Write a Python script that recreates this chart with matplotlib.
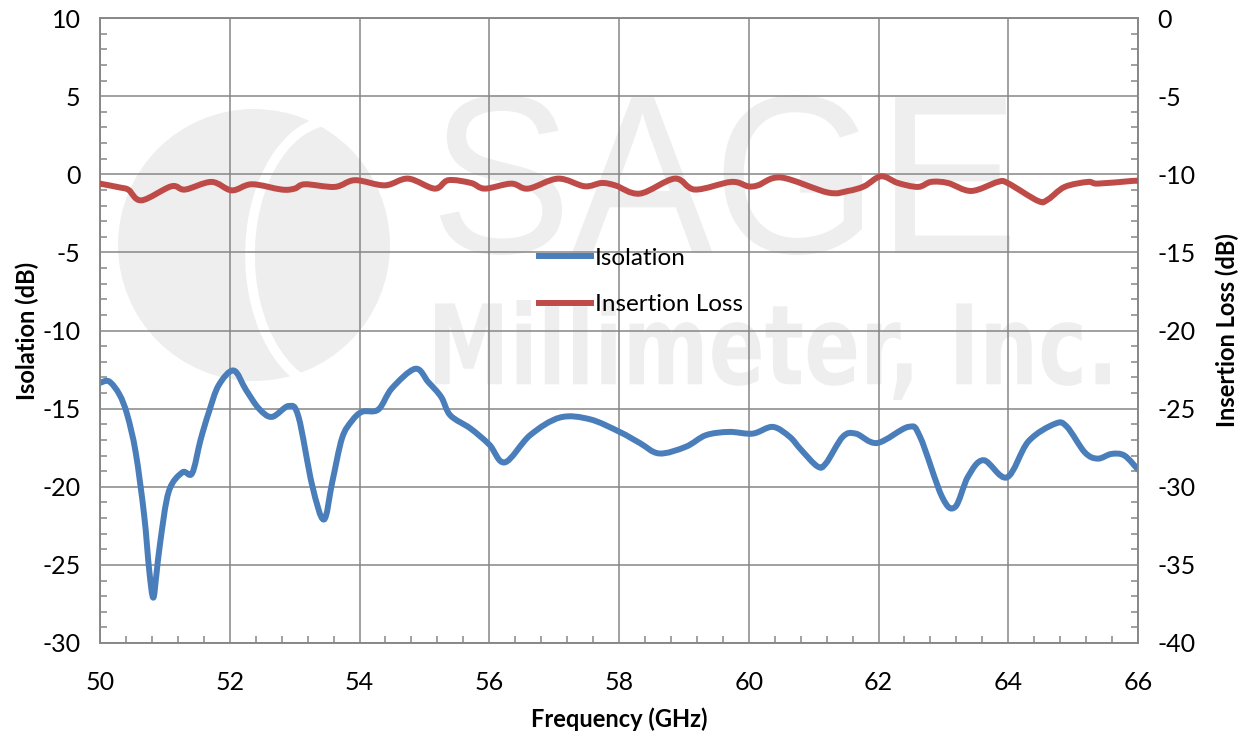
import matplotlib
matplotlib.use('Agg')
import matplotlib.pyplot as plt
import numpy as np
from matplotlib.patches import Circle, Arc, PathPatch
from matplotlib.path import Path
from matplotlib.textpath import TextPath
from matplotlib.font_manager import FontProperties
from matplotlib.transforms import Affine2D, IdentityTransform
from matplotlib.lines import Line2D
from matplotlib.ticker import MultipleLocator

# Isolation (left axis, dB)
iso_freq = [50.0, 50.14, 50.3, 50.42, 50.55, 50.68, 50.76, 50.82, 50.87, 50.93, 51.06,
            51.27, 51.42, 51.55, 51.68, 51.83, 52.06, 52.25, 52.45, 52.65, 52.91,
            53.06, 53.27, 53.45, 53.58, 53.73, 53.88, 54.04, 54.29, 54.5, 54.86,
            55.06, 55.26, 55.4, 55.71, 56.0, 56.24, 56.63, 57.09, 57.55, 58.01,
            58.32, 58.62, 59.03, 59.34, 59.7, 60.06, 60.37, 60.63, 60.8, 61.06,
            61.19, 61.45, 61.65, 61.98, 62.46, 62.64, 62.98, 63.18, 63.38, 63.62,
            63.98, 64.31, 64.72, 64.9, 65.18, 65.38, 65.59, 65.79, 66.0]
isolation = [-13.35, -13.26, -14.1, -15.4, -17.8, -21.8, -25.4, -27.1, -25.6, -23.5, -20.3,
             -19.08, -19.14, -17.0, -15.2, -13.5, -12.56, -13.8, -15.0, -15.53, -14.83,
             -15.53, -19.9, -22.1, -19.7, -16.9, -15.8, -15.2, -15.06, -13.7, -12.45,
             -13.3, -14.26, -15.43, -16.27, -17.3, -18.44, -16.7, -15.57, -15.68, -16.49,
             -17.2, -17.87, -17.44, -16.7, -16.49, -16.6, -16.17, -16.8, -17.6, -18.7,
             -18.5, -16.8, -16.6, -17.2, -16.17, -16.8, -20.65, -21.3, -19.35, -18.3,
             -19.4, -17.1, -15.97, -16.14, -17.8, -18.2, -17.9, -18.0, -18.9]

# Insertion loss (right axis, dB)
il_freq = [50.0, 50.31, 50.44, 50.64, 51.1, 51.31, 51.72, 52.03, 52.34, 52.8, 53.0,
           53.16, 53.62, 53.93, 54.39, 54.75, 55.16, 55.37, 55.72, 55.93, 56.34,
           56.6, 57.06, 57.47, 57.73, 57.94, 58.32, 58.86, 59.17, 59.73, 59.99,
           60.14, 60.5, 61.22, 61.53, 61.78, 62.04, 62.3, 62.61, 62.81, 63.07,
           63.43, 63.84, 63.99, 64.46, 64.61, 64.87, 65.23, 65.38, 65.9, 66.0]
insertion_loss = [-10.6, -10.85, -11.0, -11.67, -10.77, -10.98, -10.49, -11.03, -10.64, -10.98, -10.92,
                  -10.64, -10.81, -10.38, -10.71, -10.28, -10.92, -10.38, -10.56, -10.92, -10.6,
                  -10.92, -10.28, -10.77, -10.56, -10.71, -11.24, -10.28, -10.98, -10.49, -10.77,
                  -10.71, -10.21, -11.17, -11.07, -10.77, -10.13, -10.56, -10.81, -10.49, -10.56,
                  -11.07, -10.49, -10.56, -11.71, -11.62, -10.81, -10.49, -10.6, -10.43, -10.42]

BLUE = '#4A7EBB'
RED = '#BE4B48'
GRID = '#868686'
WM = '#EEEEEE'
W, H = 1247, 732


def smooth_path(xs, ys):
    # Excel style smoothed line: Catmull-Rom segments as cubic Beziers
    p = np.column_stack([xs, ys]).astype(float)
    n = len(p)
    verts = [p[0]]
    codes = [Path.MOVETO]
    for i in range(n - 1):
        p0 = p[i - 1] if i > 0 else p[i]
        p3 = p[i + 2] if i + 2 < n else p[i + 1]
        verts += [p[i] + (p[i + 1] - p0) / 6, p[i + 1] - (p3 - p[i]) / 6, p[i + 1]]
        codes += [Path.CURVE4] * 3
    return Path(verts, codes)


def fitted_text(ax, s, box, family, weight='normal'):
    # text outline stretched into a pixel box (x0, top, x1, bottom), image coords
    tp = TextPath((0, 0), s, size=100, prop=FontProperties(family=family, weight=weight))
    ext = tp.get_extents()
    x0, top, x1, bottom = box
    tr = (Affine2D().translate(-ext.x0, -ext.y0)
          .scale((x1 - x0) / ext.width, (bottom - top) / ext.height)
          .translate(x0, H - bottom))
    ax.add_patch(PathPatch(tr.transform_path(tp), transform=IdentityTransform(),
                           color=WM, lw=0, zorder=0))


plt.rcParams['font.family'] = ['Lato', 'DejaVu Sans']
plt.rcParams['axes.unicode_minus'] = False

fig = plt.figure(figsize=(W / 100, H / 100), dpi=100)
ax = fig.add_axes([100 / W, 89 / H, 1038 / W, 625 / H])
ax2 = ax.twinx()

# watermark logo and name
ax.add_patch(Circle((254, H - 245), 136, transform=IdentityTransform(), color=WM, lw=0, zorder=0))
ax.add_patch(Arc((335, H - 255), 170, 270, theta1=75, theta2=265, transform=IdentityTransform(),
                 color='white', lw=7, zorder=0.1))
fitted_text(ax, 'SAGE', (440, 95, 1010, 255), ['Liberation Sans', 'DejaVu Sans'])
fitted_text(ax, 'Millimeter, Inc.', (435, 300, 1110, 400), ['DejaVu Sans'], 'bold')

ax.add_patch(PathPatch(smooth_path(iso_freq, isolation), fill=False, edgecolor=BLUE, lw=4.3,
                       capstyle='round', joinstyle='round', zorder=3))
ax2.add_patch(PathPatch(smooth_path(il_freq, insertion_loss), fill=False, edgecolor=RED, lw=4.3,
                        capstyle='round', joinstyle='round', zorder=3))

ax.set_xlim(50, 66)
ax.set_ylim(-30, 10)
ax2.set_ylim(-40, 0)
ax.xaxis.set_major_locator(MultipleLocator(2))
ax.xaxis.set_minor_locator(MultipleLocator(0.4))
ax.yaxis.set_major_locator(MultipleLocator(5))
ax.yaxis.set_minor_locator(MultipleLocator(1))
ax2.yaxis.set_major_locator(MultipleLocator(5))
ax2.yaxis.set_minor_locator(MultipleLocator(1))

ax.grid(True, which='major', color=GRID, lw=1.1)
ax.set_axisbelow(True)
for a in (ax, ax2):
    for s in a.spines.values():
        s.set_color(GRID)
        s.set_linewidth(1.1)
    a.tick_params(which='major', length=0, labelsize=18, pad=14)
    a.tick_params(which='minor', direction='in', length=5, color=GRID, width=1.1)
ax.tick_params(axis='x', pad=20)

ax.set_xlabel('Frequency (GHz)', fontsize=17, fontweight='bold', labelpad=10)
ax.set_ylabel('Isolation (dB)', fontsize=17, fontweight='bold', labelpad=2)
ax2.set_ylabel('Insertion Loss (dB)', fontsize=17, fontweight='bold', rotation=90, labelpad=14)

handles = [Line2D([], [], color=BLUE, lw=4.3), Line2D([], [], color=RED, lw=4.3)]
fig.legend(handles, ['Isolation', 'Insertion Loss'], loc='upper left',
           bbox_to_anchor=(517 / W, 1 - 226 / H), frameon=False, fontsize=17.5,
           handlelength=2.15, handletextpad=0.15, labelspacing=1.05)

fig.savefig('out.png', dpi=100)
